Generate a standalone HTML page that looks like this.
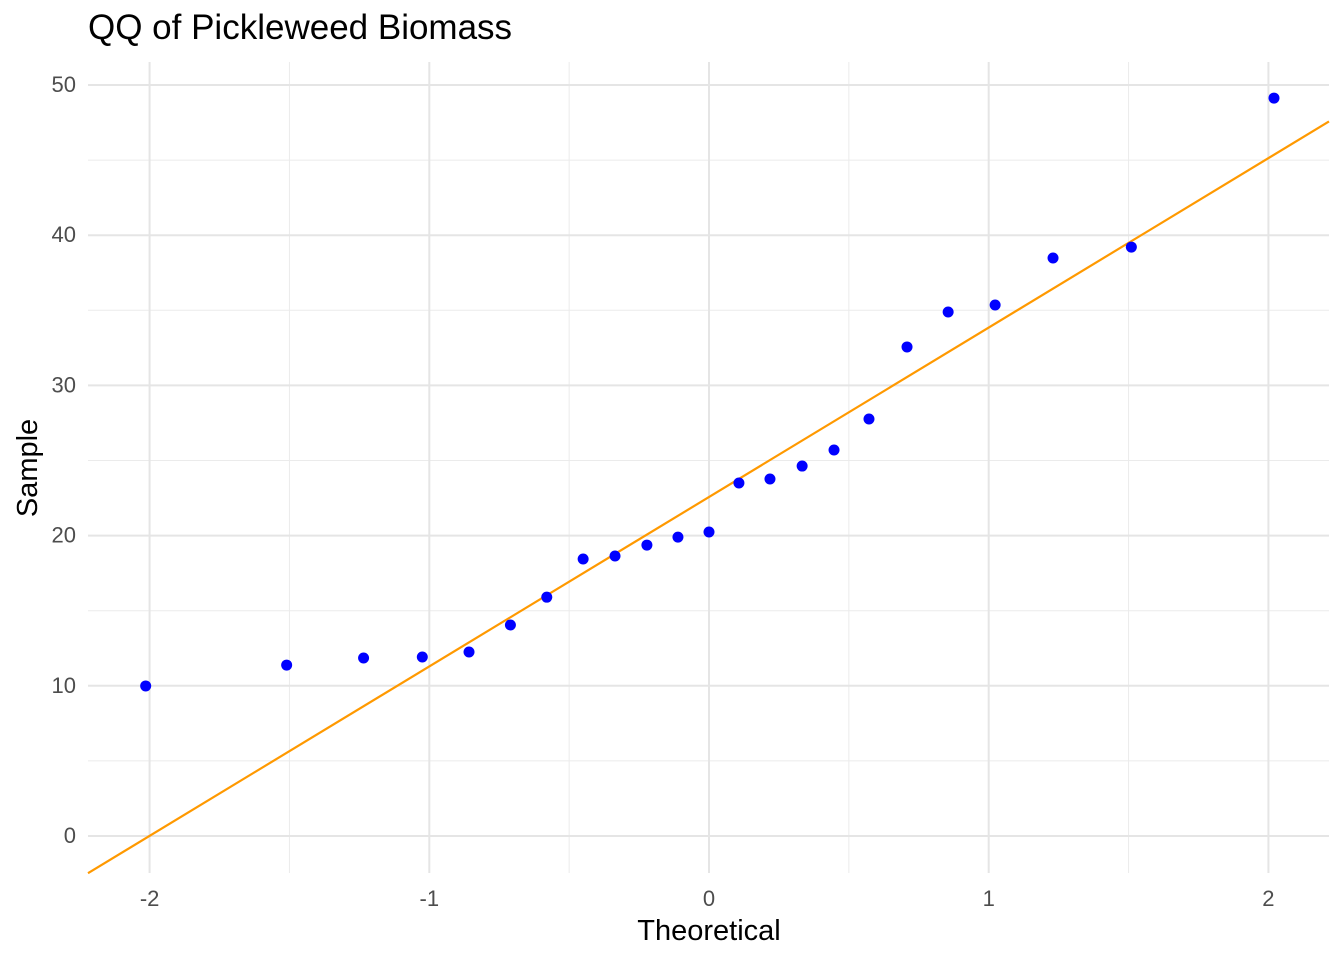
<!DOCTYPE html>
<html><head><meta charset="utf-8"><style>
html,body{margin:0;padding:0;background:#fff;}
svg{display:block;font-family:"Liberation Sans",Arial,sans-serif;}
</style></head><body>
<svg id="chart" width="1344" height="960">
<text x="88" y="39" font-size="35" fill="#000">QQ of Pickleweed Biomass</text>
<g id="grid"></g><g id="axes"></g><g id="marks"></g>
<text x="709" y="940" font-size="29" text-anchor="middle" fill="#000">Theoretical</text>
<text transform="translate(37,468) rotate(-90)" font-size="29" text-anchor="middle" fill="#000">Sample</text>
</svg>
<script>
const theoretical=[-2.014,-1.51,-1.235,-1.025,-0.858,-0.71,-0.58,-0.45,-0.336,-0.222,-0.111,0,0.107,0.218,0.333,0.447,0.572,0.708,0.855,1.023,1.23,1.51,2.02];
const sample=[9.99,11.38,11.85,11.92,12.25,14.05,15.9,18.44,18.64,19.37,19.9,20.24,23.5,23.77,24.63,25.7,27.76,32.56,34.89,35.35,38.48,39.21,49.13];
const lineIntercept=22.57, lineSlope=11.28;
const xTicks=[-2,-1,0,1,2];
const yTicks=[0,10,20,30,40,50];
const L=88,R=1329,T=62,B=873;
const X=v=>709+v*279.7;
const Y=v=>836-v*15.02;
const NS='http://www.w3.org/2000/svg';
function mk(tag,attrs,parent){const e=document.createElementNS(NS,tag);for(const k in attrs)e.setAttribute(k,attrs[k]);document.getElementById(parent).appendChild(e);return e;}
for(let i=0;i<xTicks.length-1;i++){const m=(xTicks[i]+xTicks[i+1])/2;
 const e=mk('line',{x1:X(m),x2:X(m),y1:T,y2:B,stroke:'#ebebeb','stroke-width':1},'grid');
 
 }
for(let i=0;i<yTicks.length-1;i++){const m=(yTicks[i]+yTicks[i+1])/2;
 const e=mk('line',{x1:L,x2:R,y1:Y(m),y2:Y(m),stroke:'#ebebeb','stroke-width':1},'grid');
 
 }
xTicks.forEach(t=>{
 const e=mk('line',{x1:X(t),x2:X(t),y1:T,y2:B,stroke:'#e5e5e5','stroke-width':2},'grid');
 
 
 const l=mk('text',{x:X(t),y:906,'font-size':22,fill:'#4d4d4d','text-anchor':'middle'},'axes');l.textContent=t;
 
 });
yTicks.forEach(t=>{
 const e=mk('line',{x1:L,x2:R,y1:Y(t),y2:Y(t),stroke:'#e5e5e5','stroke-width':2},'grid');
 
 
 const l=mk('text',{x:76,y:Y(t)+7,'font-size':22,fill:'#4d4d4d','text-anchor':'end'},'axes');l.textContent=t;
 
 });
const x0=(L-709)/279.7,x1=(R-709)/279.7;
const ln=mk('line',{x1:L,x2:R,y1:Y(lineIntercept+lineSlope*x0),y2:Y(lineIntercept+lineSlope*x1),stroke:'#ff9900','stroke-width':2.2},'marks');


theoretical.forEach((v,i)=>{
 const c=mk('circle',{cx:X(v),cy:Y(sample[i]),r:5.5,fill:'#0000ff'},'marks');
 
 });
</script>
</body></html>
